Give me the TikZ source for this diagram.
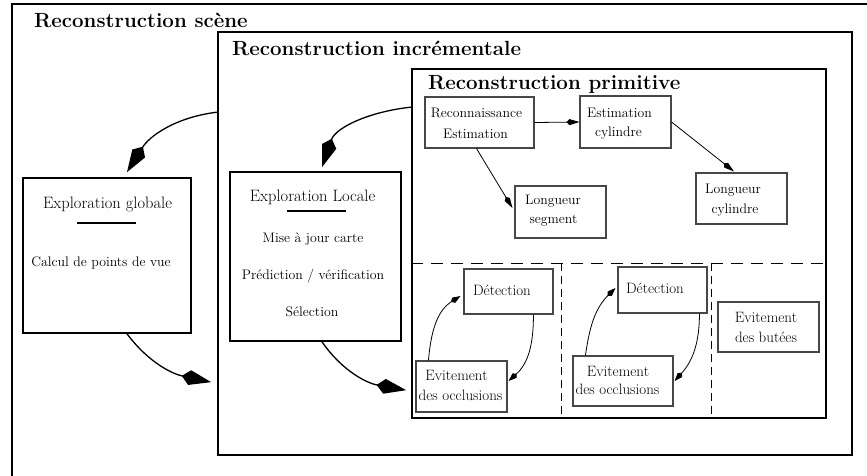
\documentclass[tikz,border=0pt]{standalone}
\usepackage{fontspec}
\usetikzlibrary{arrows.meta,calc}
\tikzset{
  bigbox/.style={draw=black, line width=1.7pt, inner sep=0pt},
  smallbox/.style={draw=black!72, line width=1.1pt, inner sep=0pt},
  ttl/.style={anchor=base west, inner sep=0pt, font=\fontsize{20.5}{24}\selectfont\bfseries},
  txt/.style={anchor=base, inner sep=0pt, font=\fontsize{13.8}{16}\selectfont},
  txtb/.style={anchor=base, inner sep=0pt, font=\fontsize{15}{18}\selectfont},
  txth/.style={anchor=base, inner sep=0pt, font=\fontsize{16.5}{19}\selectfont},
  bigarrow/.style={line width=1.3pt, -{Kite[length=30pt,width=15pt,inset=8pt]}},
  smallarrow/.style={line width=0.8pt, -{Kite[length=13pt,width=6pt,inset=3pt]}},
  cyclearrow/.style={line width=0.8pt, -{Kite[length=11pt,width=6pt,inset=3pt]}},
  hdash/.style={line width=1.3pt, dash pattern=on 12pt off 8pt},
  vdash/.style={line width=0.9pt, dash pattern=on 8pt off 5pt},
  uline/.style={line width=1.2pt},
}
\begin{document}
\begin{tikzpicture}[x=1pt,y=-1pt]
\useasboundingbox (0,0) rectangle (867,475);
\clip (0,0) rectangle (867,475);
\fill[white] (0,0) rectangle (867,475);

% containers
\node[bigbox, minimum width=868pt, minimum height=486pt] (scene) at (446,247) {};
\node[bigbox, minimum width=634pt, minimum height=423pt] (inc) at (535,243.5) {};
\node[bigbox, minimum width=414pt, minimum height=349pt] (prim) at (619,243.5) {};

% titles
\node[ttl] (tscene) at (34,27) {Reconstruction scène};
\node[ttl] (tinc) at (232,55) {Reconstruction incrémentale};
\node[ttl] (tprim) at (428,89) {Reconstruction primitive};

% partitions
\draw[hdash] ($(prim.north west)+(0,195)$) -- ($(prim.north east)+(0,195)$);
\draw[vdash] ($(prim.north west)+(150,195)$) -- ($(prim.south west)+(150,0)$);
\draw[vdash] ($(prim.north west)+(300,195)$) -- ($(prim.south west)+(300,0)$);

% exploration boxes
\node[bigbox, minimum width=168pt, minimum height=155pt] (glob) at (107,255.5) {};
\node[txth] (globt) at (107.5,208) {Exploration globale};
\draw[uline] (77,223) -- (136,223);
\node[txt] (globc) at (101,266) {Calcul de points de vue};

\node[bigbox, minimum width=171pt, minimum height=169pt] (loc) at (315.5,256.5) {};
\node[txth] (loct) at (312.5,201) {Exploration Locale};
\draw[uline] (287,211) -- (346,211);
\node[txt] (locm) at (313,242) {Mise à jour carte};
\node[txt] (locp) at (313,279) {Prédiction / vérification};
\node[txt] (locs) at (312,316) {Sélection};

% primitive boxes
\node[smallbox, minimum width=109pt, minimum height=51pt] (reco) at (479.5,122.5) {};
\node[txt] (recoa) at (476.5,117) {Reconnaissance};
\node[txt] (recob) at (475.5,138) {Estimation};

\node[smallbox, minimum width=91pt, minimum height=52pt] (estc) at (625.5,122) {};
\node[txt] (estca) at (619.5,117) {Estimation};
\node[txt] (estcb) at (618.5,136) {cylindre};

\node[smallbox, minimum width=91pt, minimum height=52pt] (lseg) at (560.5,212) {};
\node[txt] (lsega) at (553,204) {Longueur};
\node[txt] (lsegb) at (553.5,223) {segment};

\node[smallbox, minimum width=91pt, minimum height=51pt] (lcyl) at (741.5,198.5) {};
\node[txt] (lcyla) at (733,193) {Longueur};
\node[txt] (lcylb) at (735,213) {cylindre};

% lower boxes
\node[smallbox, minimum width=89pt, minimum height=45pt] (det1) at (508.5,291.5) {};
\node[txtb] (det1t) at (502,295) {Détection};
\node[smallbox, minimum width=91pt, minimum height=51pt] (evo1) at (461.5,386.5) {};
\node[txtb] (evo1a) at (456.5,380) {Evitement};
\node[txtb] (evo1b) at (460.5,400) {des occlusions};

\node[smallbox, minimum width=89pt, minimum height=46pt] (det2) at (662.5,290) {};
\node[txtb] (det2t) at (655,293) {Détection};
\node[smallbox, minimum width=100pt, minimum height=50pt] (evo2) at (623,381) {};
\node[txtb] (evo2a) at (618,376) {Evitement};
\node[txtb] (evo2b) at (617.5,394) {des occlusions};

\node[smallbox, minimum width=101pt, minimum height=50pt] (evb) at (768.5,327) {};
\node[txtb] (evba) at (766,322) {Evitement};
\node[txtb] (evbb) at (766,342) {des butées};

% big arcs (angles in page orientation)
\draw[bigarrow] ($(inc.north west)+(0,81)$) to[out=-173,in=58] ($(glob.north)+(20,-5)$);
\draw[bigarrow] ($(prim.north west)+(0,39)$) to[out=-174,in=71] ($(loc.north)+(6.5,-4)$);
\draw[bigarrow] ($(glob.south)+(20,0)$) to[out=-53,in=168] ($(inc.north west)+(-6,351)$);
\draw[bigarrow] ($(loc.south)+(6.5,0)$) to[out=-55,in=170] ($(prim.north west)+(-5,322)$);

% straight arrows
\draw[smallarrow] (reco.east) -- (estc.west);
\draw[smallarrow] (estc.east) -- ($(lcyl.north)+(-7.5,-1)$);
\draw[smallarrow] ($(reco.south)+(-3,0)$) -- ($(lseg.west)+(-2,-4)$);

% cycles
\draw[cyclearrow] ($(evo1.north west)+(13,0)$) to[out=85,in=-148] ($(det1.west)+(-3,4.5)$);
\draw[cyclearrow] ($(det1.south west)+(70,0)$) to[out=-90,in=42] ($(evo1.east)+(1,-5.5)$);
\draw[cyclearrow] ($(evo2.north west)+(13,0)$) to[out=82,in=-135] ($(det2.west)+(-2,-2)$);
\draw[cyclearrow] ($(det2.south west)+(82,0)$) to[out=-90,in=48] ($(evo2.east)+(1,0)$);
\end{tikzpicture}
\end{document}
